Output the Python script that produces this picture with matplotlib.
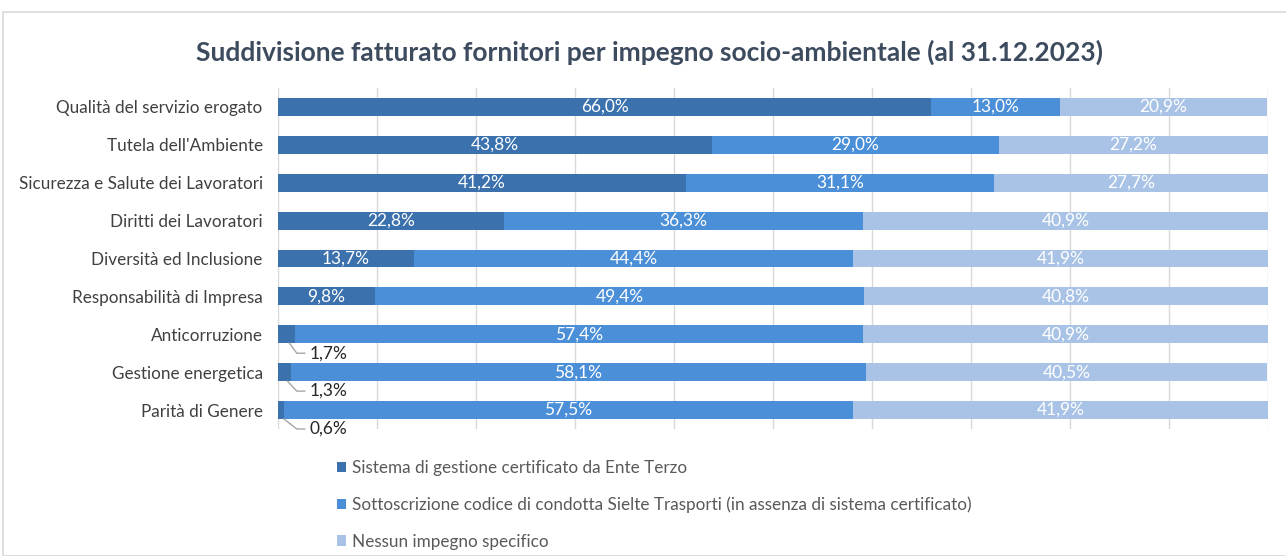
import matplotlib
matplotlib.use("Agg")
import matplotlib.pyplot as plt
from matplotlib.patches import Rectangle, Patch
import numpy as np

plt.rcParams['font.family'] = ['Lato', 'DejaVu Sans']

categories = [
    "Qualità del servizio erogato",
    "Tutela dell'Ambiente",
    "Sicurezza e Salute dei Lavoratori",
    "Diritti dei Lavoratori",
    "Diversità ed Inclusione",
    "Responsabilità di Impresa",
    "Anticorruzione",
    "Gestione energetica",
    "Parità di Genere",
]
certificato = [66.0, 43.8, 41.2, 22.8, 13.7, 9.8, 1.7, 1.3, 0.6]
codice = [13.0, 29.0, 31.1, 36.3, 44.4, 49.4, 57.4, 58.1, 57.5]
nessuno = [20.9, 27.2, 27.7, 40.9, 41.9, 40.8, 40.9, 40.5, 41.9]

series_labels = [
    "Sistema di gestione certificato da Ente Terzo",
    "Sottoscrizione codice di condotta Sielte Trasporti (in assenza di sistema certificato)",
    "Nessun impegno specifico",
]
colors = ["#3B71AD", "#4A8FD8", "#A9C3E6"]

fig = plt.figure(figsize=(12.86, 5.56), dpi=100)
ax = fig.add_axes([278 / 1286, 1 - 429 / 556, 990 / 1286, 341 / 556])

y = np.arange(len(categories))
bar_h = 0.47
left = np.zeros(len(categories))
for vals, col in zip([certificato, codice, nessuno], colors):
    vals = np.array(vals)
    ax.barh(y, vals, left=left, height=bar_h, color=col, edgecolor='none', zorder=3)
    for i, v in enumerate(vals):
        if v >= 5:
            ax.text(left[i] + v / 2, y[i], f"{v:.1f}%".replace('.', ','),
                    ha='center', va='center', color='white', fontsize=12.5, zorder=4)
        else:
            # small values: label below with leader line
            ly = y[i] + 0.5
            ax.plot([left[i] + v / 2 + 0.3, 1.9, 2.7], [y[i] + bar_h / 2, ly, ly],
                    color='#a6a6a6', lw=1, zorder=4, clip_on=False)
            ax.text(3.2, ly, f"{v:.1f}%".replace('.', ','), ha='left', va='center',
                    color='#262626', fontsize=12.5, zorder=4)
    left = left + vals

ax.set_xlim(0, 100)
ax.set_ylim(len(categories) - 0.5, -0.5)
ax.set_yticks(y)
ax.set_yticklabels(categories, fontsize=12.3, color='#404040')
ax.set_xticks(np.arange(0, 101, 10))
ax.set_xticklabels([])
ax.tick_params(axis='both', length=0, pad=11)
ax.grid(axis='x', color='#d9d9d9', lw=1, zorder=0)
for s in ax.spines.values():
    s.set_visible(False)

fig.text(650 / 1286, 1 - 52 / 556,
         "Suddivisione fatturato fornitori per impegno socio-ambientale (al 31.12.2023)",
         ha='center', va='center', fontsize=19, fontweight='bold', color='#3D4B5E')

handles = [Patch(facecolor=c, edgecolor='none') for c in colors]
fig.legend(handles, series_labels, loc='upper left',
           bbox_to_anchor=(337 / 1286, 1 - 460 / 556), frameon=False,
           fontsize=12.3, labelcolor='#595959', handlelength=0.55, handleheight=0.55,
           handletextpad=0.35, labelspacing=1.2, borderaxespad=0, borderpad=0)

fig.patches.append(Rectangle((3 / 1286, 0), 1.0, 1 - 12 / 556, transform=fig.transFigure,
                             fill=False, edgecolor='#d9d9d9', lw=1.2))

fig.savefig("out.png", dpi=100)
